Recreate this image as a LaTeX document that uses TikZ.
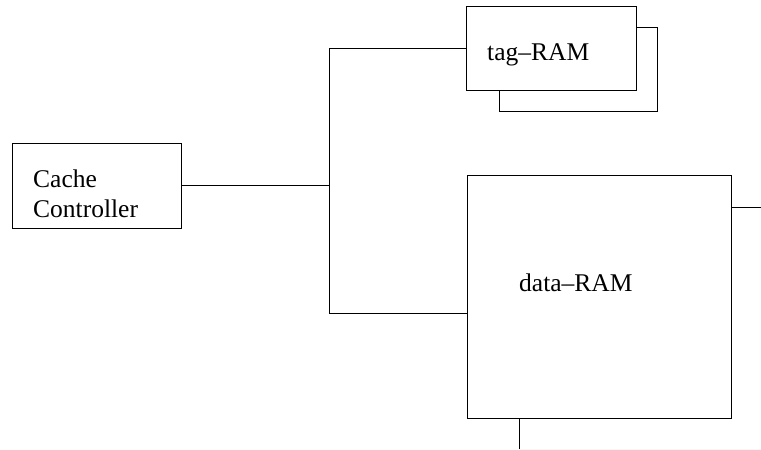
\documentclass[tikz,border=0pt]{standalone}
\usepackage{fontspec}
\setmainfont{Liberation Serif}
\begin{document}
\begin{tikzpicture}[x=1pt,y=-1pt,
  box/.style={draw,line width=1pt,fill=white},
  wire/.style={line width=1pt},
  lbl/.style={font=\fontsize{25.5}{30}\selectfont,inner sep=0pt,anchor=base west}]
\useasboundingbox (0,0) rectangle (761,450);
% shadow box of tag-RAM
\draw[box] (499,27) rectangle (657,111);
% boxes
\draw[box] (12,143) rectangle (181,228);
\draw[box] (466,6) rectangle (636,90);
\draw[box] (467,175) rectangle (731,418);
\coordinate (cc) at (181,185);
\coordinate (j) at (329,185);
\coordinate (jt) at (329,48);
\coordinate (jb) at (329,313);
\coordinate (tagl) at (466,48);
\coordinate (datal) at (467,313);
\coordinate (dr) at (731,207);
\coordinate (drend) at (761,207);
\coordinate (db) at (519,418);
\coordinate (dbend) at (519,450);
\coordinate (edge) at (761,449.5);
\draw[wire] (cc) -- (j);
\draw[wire] (tagl) -- (jt) -- (jb) -- (datal);
\draw[wire] (dr) -- (drend);
\draw[wire] (db) -- (dbend);
\draw[line width=0.6pt,black!3] (519,449.5) -- (edge);
% labels
\node[lbl] (t1) at (33,187) {Cache};
\node[lbl] (t2) at (33,217) {Controller};
\node[lbl] (t3) at (487,60) {tag–RAM};
\node[lbl] (t4) at (519,291) {data–RAM};
\end{tikzpicture}
\end{document}
